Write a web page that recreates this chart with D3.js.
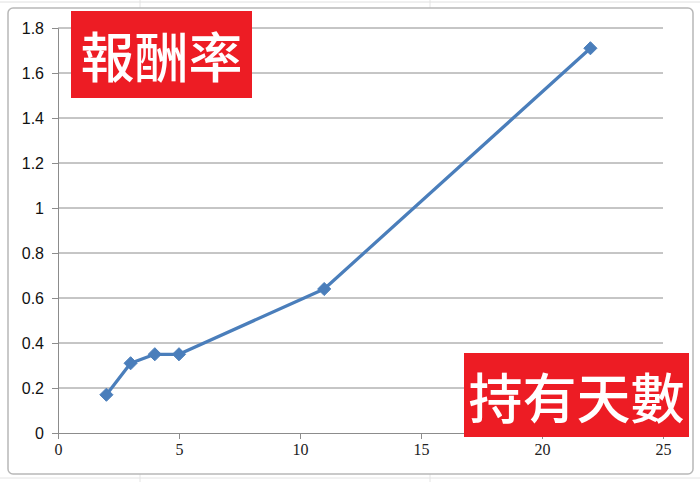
<!DOCTYPE html>
<html>
<head>
<meta charset="utf-8">
<script src="https://cdn.jsdelivr.net/npm/d3@7"></script>
<style>
    body { margin: 0; background: #ffffff; }
    svg { display: block; }
</style>
</head>
<body>
<div id="chart"></div>
<script>
// holding days vs return rate
const days = [2, 3, 4, 5, 11, 22];
const returns = [0.17, 0.31, 0.35, 0.35, 0.64, 1.71];
const xTicks = [0, 5, 10, 15, 20, 25];
const yTicks = [0, 0.2, 0.4, 0.6, 0.8, 1, 1.2, 1.4, 1.6, 1.8];
const yTitle = "報酬率";
const xTitle = "持有天數";

const width = 700;
const height = 482;

const svg = d3.select("#chart")
    .append("svg")
    .attr("width", width)
    .attr("height", height);

// faint spreadsheet grid behind the chart object
const sheet = svg.append("g");
[0, 24, 48].forEach(y => sheet.append("line")
    .attr("x1", 0).attr("x2", width).attr("y1", y + 478).attr("y2", y + 478)
    .attr("stroke", "#e4e4e4"));
[140, 430].forEach(x => sheet.append("line")
    .attr("x1", x).attr("x2", x).attr("y1", 0).attr("y2", height)
    .attr("stroke", "#e4e4e4"));
sheet.append("line").attr("x1", 0).attr("x2", width).attr("y1", 2).attr("y2", 2).attr("stroke", "#e0e0e0");

// chart frame
svg.append("rect")
    .attr("x", 8).attr("y", 8)
    .attr("width", 685).attr("height", 466)
    .attr("rx", 5)
    .attr("fill", "#ffffff")
    .attr("stroke", "#b8b8b8")
    .attr("stroke-width", 1.5);

const x = d3.scaleLinear().domain([0, 25]).range([58, 663]);
const y = d3.scaleLinear().domain([0, 1.8]).range([433, 28]);

// horizontal gridlines
svg.append("g")
    .selectAll("line")
    .data(yTicks.slice(1))
    .enter().append("line")
    .attr("x1", x(0)).attr("x2", x(25))
    .attr("y1", d => y(d)).attr("y2", d => y(d))
    .attr("stroke", "#8c8c8c")
    .attr("stroke-width", 1);

// y axis
const yAxis = svg.append("g")
    .attr("transform", `translate(${x(0)},0)`)
    .call(d3.axisLeft(y).tickValues(yTicks).tickFormat(d => d3.format("~g")(d)).tickSize(6).tickPadding(8));
yAxis.select(".domain").attr("stroke", "#8c8c8c");
yAxis.selectAll(".tick line").attr("stroke", "#8c8c8c");
yAxis.selectAll("text")
    .attr("font-family", "'Liberation Sans', sans-serif")
    .attr("font-size", 16)
    .attr("fill", "#111");

// x axis
const xAxis = svg.append("g")
    .attr("transform", `translate(0,${y(0)})`)
    .call(d3.axisBottom(x).tickValues(xTicks).tickSize(6).tickPadding(5));
xAxis.select(".domain").attr("stroke", "#8c8c8c");
xAxis.selectAll(".tick line").attr("stroke", "#8c8c8c");
xAxis.selectAll("text")
    .attr("font-family", "'Liberation Serif', 'DejaVu Serif', serif")
    .attr("font-size", 16)
    .attr("fill", "#222");

// series line
const line = d3.line()
    .x((d, i) => x(days[i]))
    .y(d => y(d));

svg.append("path")
    .datum(returns)
    .attr("d", line)
    .attr("fill", "none")
    .attr("stroke", "#4a7ebb")
    .attr("stroke-width", 3.25)
    .attr("stroke-linejoin", "round");

svg.append("g")
    .selectAll("path")
    .data(returns)
    .enter().append("path")
    .attr("d", d3.symbol().type(d3.symbolDiamond2).size(110))
    .attr("transform", (d, i) => `translate(${x(days[i])},${y(d)})`)
    .attr("fill", "#4a7ebb")
    .attr("stroke", "#4a7ebb")
    .attr("stroke-width", 1);

// red title boxes
function titleBox(text, bx, by, bw, bh) {
    svg.append("rect")
        .attr("x", bx).attr("y", by)
        .attr("width", bw).attr("height", bh)
        .attr("fill", "#ed1c24");
    svg.append("text")
        .attr("x", bx + bw / 2)
        .attr("y", by + bh / 2)
        .attr("text-anchor", "middle")
        .attr("dominant-baseline", "central")
        .attr("font-family", "'Noto Sans CJK TC', sans-serif")
        .attr("font-weight", 500)
        .attr("font-size", 54)
        .attr("fill", "#ffffff")
        .text(text);
}

titleBox(yTitle, 71, 11, 181, 87);
titleBox(xTitle, 464, 353, 225, 84);
</script>
</body>
</html>
